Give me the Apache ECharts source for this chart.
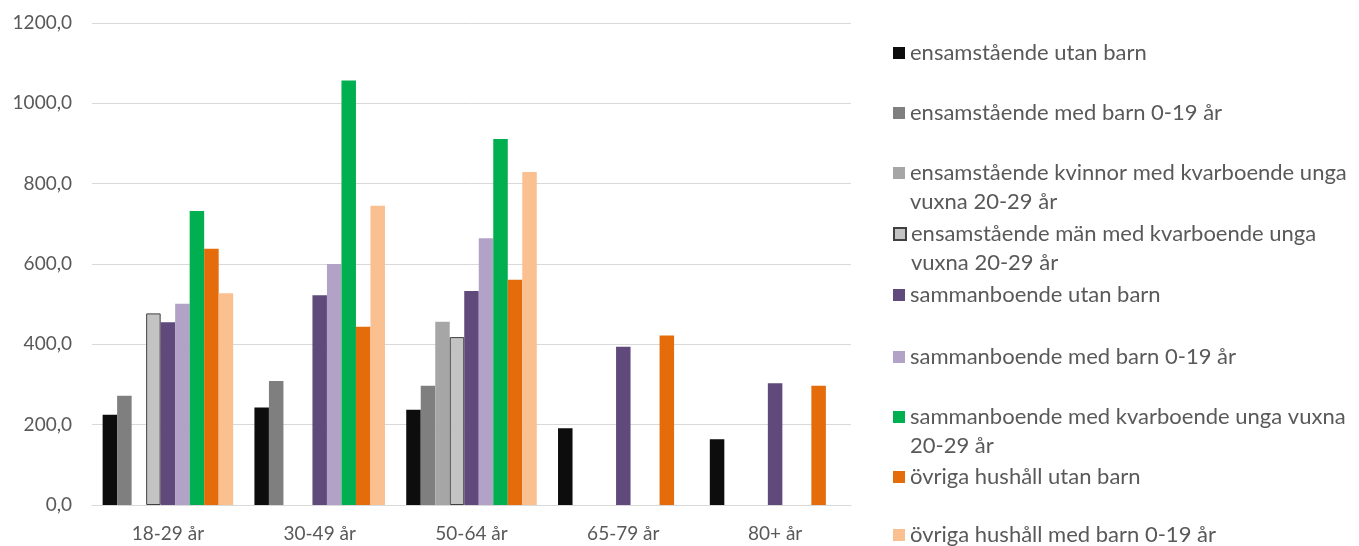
<!DOCTYPE html>
<html>
<head>
<meta charset="utf-8">
<script src="https://cdn.jsdelivr.net/npm/echarts@6/dist/echarts.min.js"></script>
<style>
html,body{margin:0;padding:0;background:#fff;}
#c{width:1359px;height:546px;}
</style>
</head>
<body>
<div id="c"></div>
<script>
var categories = ['18-29 år', '30-49 år', '50-64 år', '65-79 år', '80+ år'];
var yTicks = [0, 200, 400, 600, 800, 1000, 1200];

var ensUtanBarn   = [225, 243, 237, 191, 164];
var ensMedBarn    = [272, 309, 297, null, null];
var ensKvinnor    = [null, null, 456, null, null];
var ensMan        = [477, null, 418, null, null];
var samUtanBarn   = [455, 522, 533, 394, 303];
var samMedBarn    = [501, 600, 664, null, null];
var samKvarboende = [732, 1057, 911, null, null];
var ovrUtanBarn   = [638, 444, 561, 422, 297];
var ovrMedBarn    = [527, 745, 829, null, null];

var seriesNames = [
  'ensamstående utan barn',
  'ensamstående med barn 0-19 år',
  'ensamstående kvinnor med kvarboende unga vuxna 20-29 år',
  'ensamstående män med kvarboende unga vuxna 20-29 år',
  'sammanboende utan barn',
  'sammanboende med barn 0-19 år',
  'sammanboende med kvarboende unga vuxna 20-29 år',
  'övriga hushåll utan barn',
  'övriga hushåll med barn 0-19 år'
];
var seriesData = [ensUtanBarn, ensMedBarn, ensKvinnor, ensMan, samUtanBarn, samMedBarn, samKvarboende, ovrUtanBarn, ovrMedBarn];
var colors = ['#0d0d0d', '#7f7f7f', '#a6a6a6', '#c3c3c3', '#604a7b', '#b3a2c7', '#00b050', '#e46c0a', '#fac090'];
var wrapped = {
  'ensamstående kvinnor med kvarboende unga vuxna 20-29 år': ['ensamstående kvinnor med kvarboende unga', 'vuxna 20-29 år'],
  'ensamstående män med kvarboende unga vuxna 20-29 år': ['ensamstående män med kvarboende unga', 'vuxna 20-29 år'],
  'sammanboende med kvarboende unga vuxna 20-29 år': ['sammanboende med kvarboende unga vuxna', '20-29 år']
};
var legendCenters = [53, 113, 173, 234, 295, 357, 417, 477, 535];

var FONT = 'Lato';
var LH = 29;
var legends = seriesNames.map(function (n, i) {
  var two = !!wrapped[n];
  return {
    left: 893,
    top: legendCenters[i] - (two ? 1.5 * LH : 0.5 * LH),
    padding: 0,
    itemWidth: 12,
    itemHeight: 12,
    selectedMode: false,
    data: [{ name: n, icon: 'rect' }],
    formatter: function (name) {
      var w = wrapped[name];
      return w ? ' \n' + w[0] + '\n' + w[1] : name;
    },
    textStyle: {
      fontFamily: FONT,
      fontSize: 22,
      color: '#595959',
      lineHeight: LH
    }
  };
});

var series = seriesNames.map(function (n, i) {
  var s = {
    name: n,
    type: 'bar',
    data: seriesData[i],
    barGap: 0,
    barCategoryGap: '14%',
    itemStyle: { color: colors[i] }
  };
  if (i === 3) {
    s.itemStyle.borderColor = '#404040';
    s.itemStyle.borderWidth = 1;
  }
  return s;
});

var chart = echarts.init(document.getElementById('c'));
chart.setOption({
  animation: false,
  color: colors,
  legend: legends,
  grid: { left: 92, right: 508, top: 23, bottom: 41, containLabel: false },
  xAxis: {
    type: 'category',
    data: categories,
    axisLine: { lineStyle: { color: '#d9d9d9', width: 1 } },
    axisTick: { show: false },
    axisLabel: { fontFamily: FONT, fontSize: 19, color: '#595959', margin: 19 }
  },
  yAxis: {
    type: 'value',
    min: yTicks[0],
    max: yTicks[yTicks.length - 1],
    interval: yTicks[1] - yTicks[0],
    axisLine: { show: false },
    axisTick: { show: false },
    splitLine: { lineStyle: { color: '#d9d9d9', width: 1 } },
    axisLabel: {
      fontFamily: FONT, fontSize: 19, color: '#595959', margin: 20,
      formatter: function (v) { return v.toFixed(1).replace('.', ','); }
    }
  },
  series: series
});
</script>
</body>
</html>
